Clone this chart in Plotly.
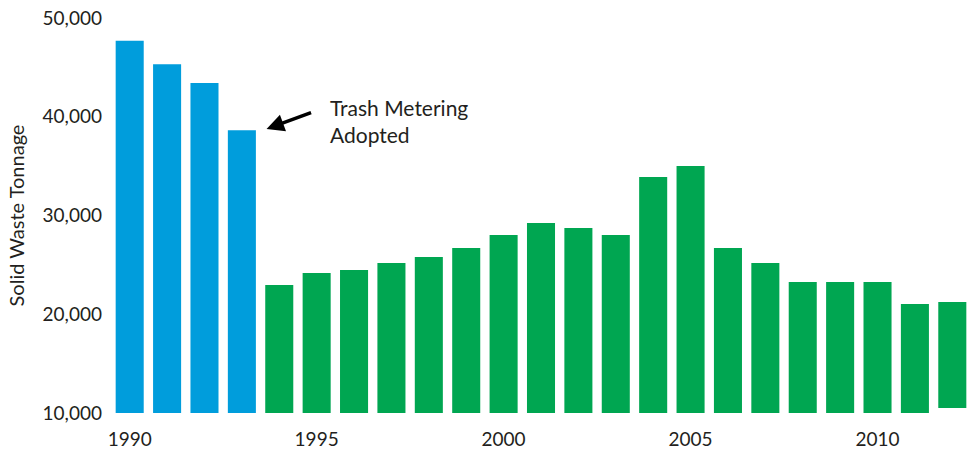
import plotly.graph_objects as go

years = list(range(1990, 2013))
tonnage = [47700, 45310, 43420, 38630, 22960, 24180, 24480, 25190, 25800, 26710,
           28030, 29240, 28730, 28030, 33900, 35010, 26710, 25190, 23270, 23270,
           23270, 21040, 21240]
bases = [10000, 10000, 10000, 10000, 10000, 10000, 10000, 10000, 10000, 10000,
         10000, 10000, 10000, 10000, 10000, 10000, 9900, 10000, 10000, 10000,
         10000, 9900, 10500]
metering_year = 1994
y_ticks = [10000, 20000, 30000, 40000, 50000]
y_tick_text = ["10,000", "20,000", "30,000", "40,000", "50,000"]
x_ticks = [1990, 1995, 2000, 2005, 2010]

BLUE = "#009DDC"
GREEN = "#00A651"
colors = [BLUE if y < metering_year else GREEN for y in years]

fig = go.Figure(go.Bar(
    x=years,
    y=[t - b for t, b in zip(tonnage, bases)],
    base=bases,
    marker=dict(color=colors, line=dict(width=0)),
    width=0.75,
))

FONT = "Lato, sans-serif"
fig.update_layout(
    width=975, height=449,
    margin=dict(l=111, r=4, t=18, b=36),
    paper_bgcolor="white", plot_bgcolor="white",
    showlegend=False,
    font=dict(family=FONT, color="#231f20"),
    xaxis=dict(range=[1989.5, 2012.5], tickvals=x_ticks, showgrid=False,
               zeroline=False, showline=False, ticks="", automargin=False,
               tickfont=dict(size=19), ticklabelstandoff=13,
               ticklabeloverflow="allow"),
    yaxis=dict(range=[10000, 50000], tickvals=y_ticks, ticktext=y_tick_text,
               showgrid=False, zeroline=False, showline=False, ticks="", automargin=False,
               tickfont=dict(size=19), ticklabelstandoff=8,
               ticklabeloverflow="allow",
               title=dict(text="Solid Waste Tonnage", font=dict(size=20), standoff=12)),
    annotations=[
        dict(x=1993.66, y=38760, xref="x", yref="y", text="", showarrow=True,
             ax=46, ay=-17, arrowhead=2, arrowsize=1, arrowwidth=3.5, arrowcolor="black"),
        dict(x=1995.3, y=39570, xref="x", yref="y", xanchor="left", yanchor="middle",
             text="Trash Metering<br>Adopted", showarrow=False, align="left",
             font=dict(size=21, color="#231f20")),
    ],
)

# remove the browser's default 8px body margin so the figure fills the window exactly
fig.write_html("out.html", config={"displayModeBar": False},
               post_script="document.body.style.margin='0';")
